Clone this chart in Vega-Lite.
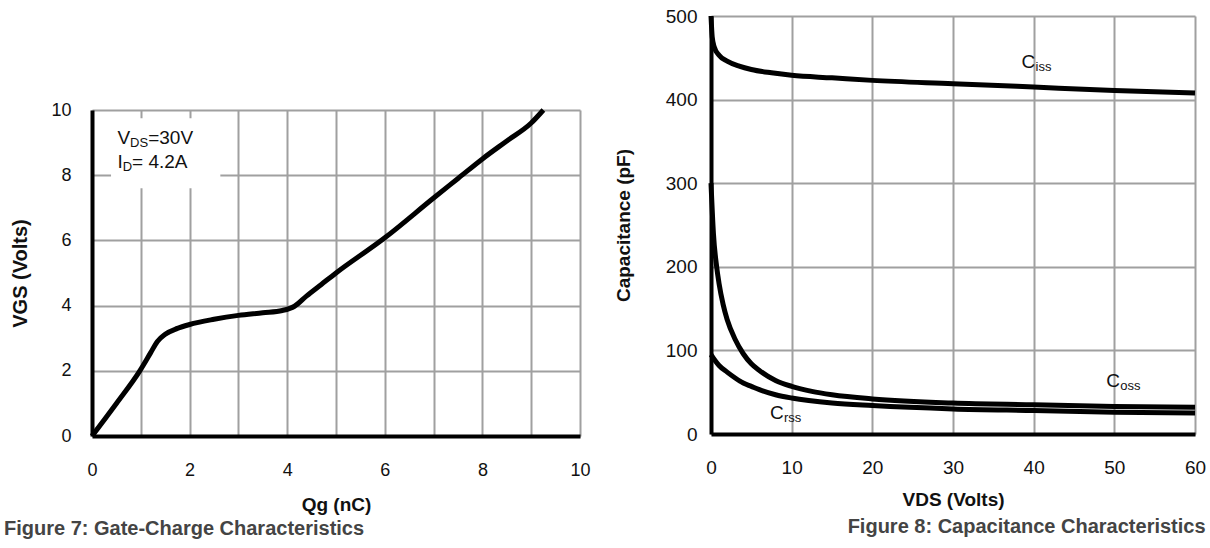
{
  "$schema": "https://vega.github.io/schema/vega-lite/v6.json",
  "padding": {"left": 3, "top": 6, "right": 0, "bottom": 0},
  "background": "white",
  "config": {
    "font": "Liberation Sans",
    "view": {"stroke": null},
    "axis": {
      "gridColor": "#a0a0a0", "gridWidth": 2, "gridOpacity": 1,
      "domainColor": "#000000", "domainWidth": 4, "ticks": false,
      "labelColor": "#111111", "titleColor": "#111111",
      "labelFont": "Liberation Sans", "titleFont": "Liberation Sans",
      "titleFontWeight": "bold"
    }
  },
  "datasets": {
    "gate": [
      {"q": 0, "v": 0}, {"q": 0.5, "v": 1.0}, {"q": 0.98, "v": 2.0}, {"q": 1.2, "v": 2.55},
      {"q": 1.34, "v": 2.9}, {"q": 1.5, "v": 3.12}, {"q": 1.75, "v": 3.3}, {"q": 2, "v": 3.42},
      {"q": 2.5, "v": 3.58}, {"q": 3, "v": 3.7}, {"q": 3.5, "v": 3.78}, {"q": 3.9, "v": 3.85},
      {"q": 4.15, "v": 3.98}, {"q": 4.4, "v": 4.3}, {"q": 4.7, "v": 4.65}, {"q": 5, "v": 5.0},
      {"q": 6, "v": 6.08}, {"q": 7, "v": 7.3}, {"q": 7.5, "v": 7.9}, {"q": 8, "v": 8.5},
      {"q": 8.5, "v": 9.05}, {"q": 9, "v": 9.6}, {"q": 9.25, "v": 10}
    ],
    "box": [{"xa": 0.39, "xb": 2.63, "ya": 7.6, "yb": 9.75}],
    "note": [
      {"row": 1, "main": "V", "sub": "DS", "rest": "=30V", "q": 0.52, "v": 9.13},
      {"row": 2, "main": "I", "sub": "D", "rest": "= 4.2A", "q": 0.52, "v": 8.41}
    ],
    "cap": [
      {"s": "Ciss", "vds": 0, "c": 500}, {"s": "Ciss", "vds": 0.15, "c": 475}, {"s": "Ciss", "vds": 0.4, "c": 463},
      {"s": "Ciss", "vds": 1, "c": 453}, {"s": "Ciss", "vds": 2, "c": 446}, {"s": "Ciss", "vds": 3.5, "c": 440},
      {"s": "Ciss", "vds": 5, "c": 436}, {"s": "Ciss", "vds": 7.5, "c": 432}, {"s": "Ciss", "vds": 10, "c": 429},
      {"s": "Ciss", "vds": 15, "c": 426}, {"s": "Ciss", "vds": 20, "c": 423}, {"s": "Ciss", "vds": 30, "c": 419},
      {"s": "Ciss", "vds": 40, "c": 415}, {"s": "Ciss", "vds": 50, "c": 411}, {"s": "Ciss", "vds": 60, "c": 408},
      {"s": "Coss", "vds": 0, "c": 300}, {"s": "Coss", "vds": 0.3, "c": 240}, {"s": "Coss", "vds": 0.7, "c": 200},
      {"s": "Coss", "vds": 1, "c": 180}, {"s": "Coss", "vds": 1.5, "c": 155}, {"s": "Coss", "vds": 2, "c": 137},
      {"s": "Coss", "vds": 3, "c": 113}, {"s": "Coss", "vds": 4, "c": 96}, {"s": "Coss", "vds": 5, "c": 84},
      {"s": "Coss", "vds": 6, "c": 76}, {"s": "Coss", "vds": 8, "c": 64}, {"s": "Coss", "vds": 10, "c": 57},
      {"s": "Coss", "vds": 12.5, "c": 51}, {"s": "Coss", "vds": 15, "c": 47}, {"s": "Coss", "vds": 20, "c": 42},
      {"s": "Coss", "vds": 30, "c": 37}, {"s": "Coss", "vds": 40, "c": 35}, {"s": "Coss", "vds": 50, "c": 33},
      {"s": "Coss", "vds": 60, "c": 32},
      {"s": "Crss", "vds": 0, "c": 95}, {"s": "Crss", "vds": 0.5, "c": 88}, {"s": "Crss", "vds": 1, "c": 82},
      {"s": "Crss", "vds": 2, "c": 74}, {"s": "Crss", "vds": 3, "c": 67}, {"s": "Crss", "vds": 4, "c": 61},
      {"s": "Crss", "vds": 5, "c": 57}, {"s": "Crss", "vds": 6, "c": 53}, {"s": "Crss", "vds": 8, "c": 47},
      {"s": "Crss", "vds": 10, "c": 43}, {"s": "Crss", "vds": 15, "c": 37}, {"s": "Crss", "vds": 20, "c": 34},
      {"s": "Crss", "vds": 30, "c": 30}, {"s": "Crss", "vds": 40, "c": 28}, {"s": "Crss", "vds": 50, "c": 26},
      {"s": "Crss", "vds": 60, "c": 25}
    ],
    "caplabels": [
      {"base": "C", "sub": "iss", "vds": 38.5, "c": 445},
      {"base": "C", "sub": "oss", "vds": 49, "c": 63},
      {"base": "C", "sub": "rss", "vds": 7.3, "c": 25}
    ]
  },
  "spacing": 23,
  "hconcat": [
    {
      "spacing": 0,
      "vconcat": [
        {
          "width": 488, "height": 84,
          "data": {"values": [{}]},
          "mark": {"type": "text", "text": ""},
          "encoding": {}
        },
        {
          "width": 488, "height": 326,
          "title": {
            "text": "Figure 7: Gate-Charge Characteristics", "orient": "bottom", "anchor": "start",
            "frame": "bounds", "fontSize": 20, "fontWeight": "bold", "color": "#444444",
            "offset": 5, "dx": -7, "font": "Liberation Sans"
          },
          "layer": [
            {
              "data": {"name": "gate"},
              "mark": {"type": "line", "color": "#000000", "strokeWidth": 5, "interpolate": "monotone"},
              "encoding": {
                "x": {
                  "field": "q", "type": "quantitative",
                  "scale": {"domain": [0, 10], "nice": false},
                  "axis": {
                    "title": "Qg (nC)", "values": [0, 1, 2, 3, 4, 5, 6, 7, 8, 9, 10],
                    "labelExpr": "datum.value % 2 === 0 ? datum.label : ''",
                    "labelFontSize": 18, "labelPadding": 25, "titleFontSize": 19, "titlePadding": 16,
                    "labelFlush": false
                  }
                },
                "y": {
                  "field": "v", "type": "quantitative",
                  "scale": {"domain": [0, 10], "nice": false},
                  "axis": {
                    "title": "VGS (Volts)", "values": [0, 2, 4, 6, 8, 10],
                    "labelFontSize": 18, "labelPadding": 21, "titleFontSize": 20, "titlePadding": 20,
                    "labelFlush": false
                  }
                }
              }
            },
            {
              "data": {"name": "box"},
              "mark": {"type": "rect", "color": "#ffffff", "opacity": 1},
              "encoding": {
                "x": {"field": "xa", "type": "quantitative"},
                "x2": {"field": "xb"},
                "y": {"field": "ya", "type": "quantitative"},
                "y2": {"field": "yb"}
              }
            },
            {
              "data": {"name": "note"},
              "mark": {"type": "text", "align": "left", "baseline": "middle", "fontSize": 19, "color": "#111111"},
              "encoding": {
                "x": {"field": "q", "type": "quantitative"},
                "y": {"field": "v", "type": "quantitative"},
                "text": {"field": "main"}
              }
            },
            {
              "data": {"name": "note"},
              "transform": [{"filter": "datum.row === 1"}],
              "mark": {"type": "text", "align": "left", "baseline": "middle", "fontSize": 13, "dx": 12.7, "dy": 5, "color": "#111111"},
              "encoding": {
                "x": {"field": "q", "type": "quantitative"},
                "y": {"field": "v", "type": "quantitative"},
                "text": {"field": "sub"}
              }
            },
            {
              "data": {"name": "note"},
              "transform": [{"filter": "datum.row === 1"}],
              "mark": {"type": "text", "align": "left", "baseline": "middle", "fontSize": 19, "dx": 30.8, "color": "#111111"},
              "encoding": {
                "x": {"field": "q", "type": "quantitative"},
                "y": {"field": "v", "type": "quantitative"},
                "text": {"field": "rest"}
              }
            },
            {
              "data": {"name": "note"},
              "transform": [{"filter": "datum.row === 2"}],
              "mark": {"type": "text", "align": "left", "baseline": "middle", "fontSize": 13, "dx": 5.3, "dy": 5, "color": "#111111"},
              "encoding": {
                "x": {"field": "q", "type": "quantitative"},
                "y": {"field": "v", "type": "quantitative"},
                "text": {"field": "sub"}
              }
            },
            {
              "data": {"name": "note"},
              "transform": [{"filter": "datum.row === 2"}],
              "mark": {"type": "text", "align": "left", "baseline": "middle", "fontSize": 19, "dx": 14.7, "color": "#111111"},
              "encoding": {
                "x": {"field": "q", "type": "quantitative"},
                "y": {"field": "v", "type": "quantitative"},
                "text": {"field": "rest"}
              }
            }
          ]
        }
      ]
    },
    {
      "width": 484, "height": 418,
      "title": {
        "text": "Figure 8: Capacitance Characteristics", "orient": "bottom", "anchor": "end",
        "frame": "bounds", "fontSize": 20, "fontWeight": "bold", "color": "#444444",
        "offset": 8, "font": "Liberation Sans"
      },
      "layer": [
        {
          "data": {"name": "cap"},
          "mark": {"type": "line", "color": "#000000", "strokeWidth": 5, "interpolate": "monotone"},
          "encoding": {
            "x": {
              "field": "vds", "type": "quantitative",
              "scale": {"domain": [0, 60], "nice": false},
              "axis": {
                "title": "VDS (Volts)", "values": [0, 10, 20, 30, 40, 50, 60],
                "labelFontSize": 19, "labelPadding": 24, "titleFontSize": 19, "titlePadding": 13,
                "labelFlush": false
              }
            },
            "y": {
              "field": "c", "type": "quantitative",
              "scale": {"domain": [0, 500], "nice": false},
              "axis": {
                "title": "Capacitance (pF)", "values": [0, 100, 200, 300, 400, 500],
                "labelFontSize": 19, "labelPadding": 14, "titleFontSize": 19, "titlePadding": 32,
                "labelFlush": false
              }
            },
            "detail": {"field": "s", "type": "nominal"}
          }
        },
        {
          "data": {"name": "caplabels"},
          "mark": {"type": "text", "align": "left", "baseline": "middle", "fontSize": 19, "color": "#111111"},
          "encoding": {
            "x": {"field": "vds", "type": "quantitative"},
            "y": {"field": "c", "type": "quantitative"},
            "text": {"field": "base"}
          }
        },
        {
          "data": {"name": "caplabels"},
          "mark": {"type": "text", "align": "left", "baseline": "middle", "fontSize": 13, "dx": 14, "dy": 5, "color": "#111111"},
          "encoding": {
            "x": {"field": "vds", "type": "quantitative"},
            "y": {"field": "c", "type": "quantitative"},
            "text": {"field": "sub"}
          }
        }
      ]
    }
  ]
}
